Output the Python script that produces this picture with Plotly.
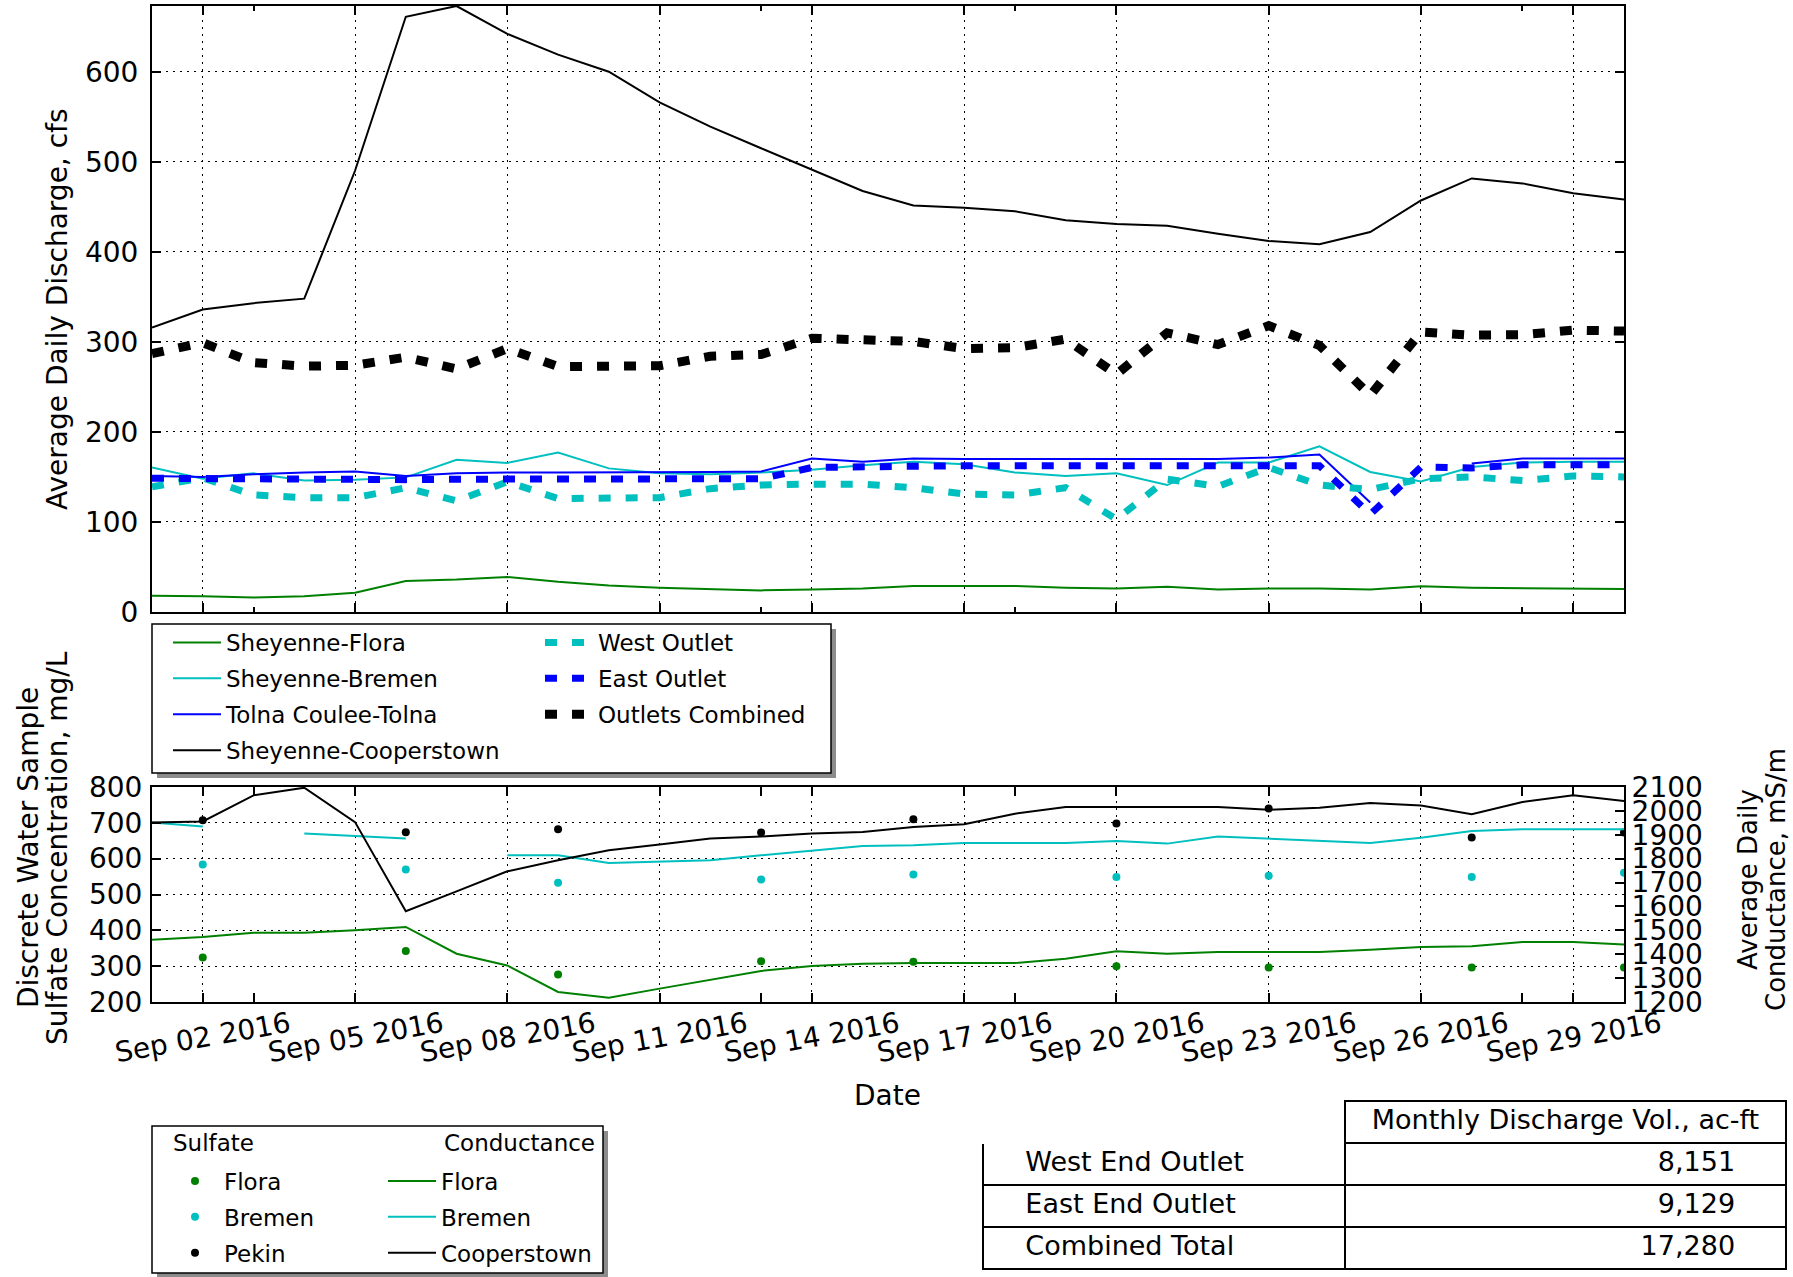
import plotly.graph_objects as go

# ---------------- data ----------------
dates = [f"2016-09-{d:02d}" for d in range(1, 31)]

# Average daily discharge, cfs
flora_q = [18, 17.5, 16, 17.5, 21.5, 34.5, 36, 39, 33.5, 29.5, 27, 25.5, 24, 25, 26,
           29, 29, 29, 27, 26, 28, 25, 26, 26, 25, 28.5, 27, 26.5, 26, 25.5]
bremen_q = [160.5, 148, 154, 146, 147, 149.5, 169, 165.5, 177, 159.5, 154, 153, 155, 158, 163,
            167, 164, 155, 151, 154, 141, 166, 166, 184, 155.5, 145, 161, 166, 167, 167]
tolna_q = [151, 150, 153, 155, 156, 151, 154, 155, 155, 155, 155, 155.5, 156, 170.5, 167,
           170.5, 170, 170, 170, 170, 170, 170, 171.5, 175, 121.5, None, 165, 170.5, 170.5, 170.5]
coop_q = [316, 336, 343, 348, 490, 661, 673, 642, 619, 600, 566, 539, 515, 491, 467.5,
          451.5, 449, 445, 435, 431, 429, 420, 412, 408.5, 422, 457, 481.5, 476, 465, 458]
west_q = [139, 149, 130, 127, 127, 138, 123.5, 144.5, 126, 126, 127, 137, 141, 142, 142,
          138, 131, 130, 138, 103, 147.5, 139.5, 160.5, 141, 136, 148, 150, 146, 151, 150]
east_q = [148.5, 148, 148, 148, 147, 147, 147.5, 147.5, 147.5, 147.5, 147.5, 147.5, 148, 160.5, 161.5,
          162.5, 162.5, 162.5, 162.5, 162.5, 162.5, 162.5, 162.5, 162.5, 108.5, 161, 160, 163.5, 163.5, 163.5]
combined_q = [287, 299, 277, 273, 274, 283, 270, 292.5, 272.5, 272.5, 273.5, 284, 286, 304, 302,
              300.5, 292.5, 293.5, 303, 264, 310, 297, 318, 296, 240.5, 311, 307.5, 308, 313, 312]

# Discrete sulfate samples, mg/L
sample_dates = ["2016-09-02", "2016-09-06", "2016-09-09", "2016-09-13", "2016-09-16",
                "2016-09-20", "2016-09-23", "2016-09-27", "2016-09-30"]
flora_so4 = [324, 342, 277, 314, 312, 300, 296, 296, 296]
bremen_so4 = [584, 570, 533, 542, 556, 549, 552, 549, 561]
pekin_so4 = [707, 674, 682, 673, 710, 698, 740, 659, 673]

# Average daily conductance, mS/m
flora_sc = [1461, 1472, 1490, 1490, 1500, 1514, 1402, 1353, 1242, 1218, 1256, 1293, 1330, 1351, 1360,
            1363, 1363, 1363, 1381, 1412, 1402, 1409, 1409, 1409, 1419, 1430, 1433, 1451, 1451, 1441]
bremen_sc = [1951, 1935, None, 1905, 1895, 1884, None, 1814, 1814, 1782, 1786, 1793, 1814, 1835, 1853,
             1856, 1866, 1866, 1866, 1874, 1863, 1893, 1884, 1874, 1866, 1888, 1916, 1923, 1923, 1923]
coop_sc = [1951, 1956, 2065, 2097, 1953, 1580, 1663, 1747, 1793, 1835, 1859, 1884, 1893, 1905, 1912,
           1933, 1944, 1988, 2016, 2016, 2016, 2016, 2005, 2013, 2033, 2023, 1986, 2037, 2065, 2041]

# ticks
major_ticks = ["2016-09-02", "2016-09-05", "2016-09-08", "2016-09-11", "2016-09-14",
               "2016-09-17", "2016-09-20", "2016-09-23", "2016-09-26", "2016-09-29"]
major_labels = ["Sep 02 2016", "Sep 05 2016", "Sep 08 2016", "Sep 11 2016", "Sep 14 2016",
                "Sep 17 2016", "Sep 20 2016", "Sep 23 2016", "Sep 26 2016", "Sep 29 2016"]
minor_ticks = ["2016-09-03", "2016-09-13", "2016-09-18", "2016-09-28"]
q_ticks = [0, 100, 200, 300, 400, 500, 600]
so4_ticks = [200, 300, 400, 500, 600, 700, 800]
sc_ticks = [1200, 1300, 1400, 1500, 1600, 1700, 1800, 1900, 2000, 2100]

# table
table_header = "Monthly Discharge Vol., ac-ft"
table_rows = ["West End Outlet", "East End Outlet", "Combined Total"]
table_vals = ["8,151", "9,129", "17,280"]

# ---------------- layout helpers ----------------
FONT = "DejaVu Sans"
W, H = 1793, 1277
ML, MR, MT, MB = 152, 3, 4, 3
AW = W - ML - MR
AH = H - MT - MB
TICK_FS = 28
LAB_FS = 28
LEG_FS = 23
TAB_FS = 27


def px(X):
    return (X - ML) / AW


def py(Y):
    return (H - MB - Y) / AH


GREEN, CYAN, BLUE, BLACK = "#008000", "#00BFBF", "#0000FF", "#000000"
DASH = "12px,15px"

fig = go.Figure()

# top panel: discharge
solid = [("Sheyenne-Flora", flora_q, GREEN), ("Sheyenne-Bremen", bremen_q, CYAN),
         ("Tolna Coulee-Tolna", tolna_q, BLUE), ("Sheyenne-Cooperstown", coop_q, BLACK)]
for i, (nm, vals, col) in enumerate(solid):
    fig.add_trace(go.Scatter(x=dates, y=vals, name=nm, mode="lines",
                             line=dict(color=col, width=2), xaxis="x", yaxis="y",
                             legend="legend", legendgroup=f"a{i}"))
dashed = [("West Outlet", west_q, CYAN, 7), ("East Outlet", east_q, BLUE, 7),
          ("Outlets Combined", combined_q, BLACK, 9)]
for i, (nm, vals, col, w) in enumerate(dashed):
    fig.add_trace(go.Scatter(x=dates, y=vals, name=nm, mode="lines",
                             line=dict(color=col, width=w, dash=DASH), xaxis="x", yaxis="y",
                             legend="legend3", legendgroup=f"b{i}"))

# bottom panel: sulfate samples (left) and conductance (right)
for i, (nm, vals, col) in enumerate([("Flora", flora_so4, GREEN), ("Bremen", bremen_so4, CYAN),
                                     ("Pekin", pekin_so4, BLACK)]):
    fig.add_trace(go.Scatter(x=sample_dates, y=vals, name=nm, mode="markers",
                             marker=dict(color=col, size=8), xaxis="x2", yaxis="y2",
                             legend="legend2", legendgroup=f"c{i}"))
for i, (nm, vals, col) in enumerate([("Flora", flora_sc, GREEN), ("Bremen", bremen_sc, CYAN),
                                     ("Cooperstown", coop_sc, BLACK)]):
    fig.add_trace(go.Scatter(x=dates, y=vals, name=nm, mode="lines",
                             line=dict(color=col, width=2), xaxis="x2", yaxis="y3",
                             legend="legend4", legendgroup=f"d{i}", connectgaps=False))

# monthly volume table
fig.add_trace(go.Table(
    domain=dict(x=[px(983), px(1786)], y=[py(1270), py(1101)]),
    columnwidth=[362, 441],
    header=dict(values=["", table_header], height=42, align=["left", "center"],
                line=dict(color=["white", "black"], width=1.5), fill=dict(color="white"),
                font=dict(family=FONT, size=TAB_FS, color="black")),
    cells=dict(values=[["\u00a0\u00a0\u00a0\u00a0" + r for r in table_rows],
                       [v + "\u00a0\u00a0\u00a0\u00a0\u00a0" for v in table_vals]],
               height=42, align=["left", "right"],
               line=dict(color="black", width=1.5), fill=dict(color="white"),
               font=dict(family=FONT, size=TAB_FS, color="black")),
))

xcommon = dict(type="date", range=[dates[0], dates[-1]], tickmode="array", tickvals=major_ticks,
               showticklabels=False, ticks="inside", ticklen=9, tickwidth=1.5, tickcolor="black",
               showline=True, linecolor="black", linewidth=2, mirror="allticks",
               showgrid=True, gridcolor="black", gridwidth=1, griddash="2px,5px", zeroline=False,
               minor=dict(tickmode="array", tickvals=minor_ticks, ticks="inside", ticklen=5,
                          tickwidth=1.5, tickcolor="black", showgrid=False))
ycommon = dict(ticks="inside", ticklen=9, tickwidth=1.5, tickcolor="black",
               showline=True, linecolor="black", linewidth=2,
               showgrid=True, gridcolor="black", gridwidth=1, griddash="2px,5px", zeroline=False,
               tickfont=dict(family=FONT, size=TICK_FS, color="black"))

fig.update_layout(
    width=W, height=H, margin=dict(l=ML, r=MR, t=MT, b=MB, autoexpand=False),
    paper_bgcolor="white", plot_bgcolor="white",
    font=dict(family=FONT, size=TICK_FS, color="black"),
    xaxis=dict(domain=[px(152), px(1624)], anchor="y", **xcommon),
    yaxis=dict(domain=[py(612), py(6)], anchor="x", range=[0, max(coop_q)], tickmode="array",
               tickvals=q_ticks, mirror="allticks", ticklabelstandoff=6, **ycommon),
    xaxis2=dict(domain=[px(152), px(1624)], anchor="y2", matches="x", **xcommon),
    yaxis2=dict(domain=[py(1002), py(787)], anchor="x2", range=[200, 800], tickmode="array",
                tickvals=so4_ticks, ticklabelstandoff=2, **ycommon),
    yaxis3=dict(overlaying="y2", anchor="x2", side="right", range=[1200, 2100], tickmode="array",
                tickvals=sc_ticks, ticks="inside", ticklen=9, tickwidth=1.5, tickcolor="black",
                showline=True, linecolor="black", linewidth=2, showgrid=False, zeroline=False,
                ticklabelstandoff=0, tickfont=dict(family=FONT, size=TICK_FS, color="black")),
    showlegend=True,
)

legend_common = dict(orientation="v", xanchor="left", yanchor="top", bgcolor="rgba(0,0,0,0)",
                     borderwidth=0, font=dict(family=FONT, size=LEG_FS, color="black"),
                     itemwidth=48, tracegroupgap=3, traceorder="grouped")
fig.update_layout(
    legend=dict(x=px(168), y=py(621), **legend_common),
    legend3=dict(x=px(540), y=py(621), **legend_common),
    legend2=dict(x=px(166), y=py(1159.5), **legend_common),
    legend4=dict(x=px(383), y=py(1159.5), **legend_common),
)

# legend frames with shadow
for (x0, y0, x1, y1) in [(152, 624, 831, 773), (152, 1126, 603, 1273)]:
    fig.add_shape(type="rect", xref="paper", yref="paper", layer="below",
                  x0=px(x0 + 5), x1=px(x1 + 5), y0=py(y1 + 5), y1=py(y0 + 5),
                  fillcolor="#8c8c8c", line=dict(width=0))
    fig.add_shape(type="rect", xref="paper", yref="paper", layer="below",
                  x0=px(x0), x1=px(x1), y0=py(y1), y1=py(y0),
                  fillcolor="white", line=dict(color="black", width=1.5))

ann = []
for tv, tl in zip(major_ticks, major_labels):
    ann.append(dict(x=tv, xref="x2", y=py(1037), yref="paper", text=tl, textangle=-10,
                    showarrow=False, xanchor="center", yanchor="middle",
                    font=dict(family=FONT, size=TICK_FS, color="black")))
ann += [
    dict(x=px(887), y=py(1095), text="Date"),
    dict(x=px(57), y=py(309), text="Average Daily Discharge, cfs", textangle=-90),
    dict(x=px(28), y=py(848), text="Discrete Water Sample", textangle=-90),
    dict(x=px(57), y=py(848), text="Sulfate Concentration, mg/L", textangle=-90),
    dict(x=px(1748), y=py(880), text="Average Daily", textangle=-90,
         font=dict(family=FONT, size=26, color="black")),
    dict(x=px(1776), y=py(880), text="Conductance, mS/m", textangle=-90,
         font=dict(family=FONT, size=26, color="black")),
    dict(x=px(171), y=py(1143), text="Sulfate", xanchor="left",
         font=dict(family=FONT, size=LEG_FS, color="black")),
    dict(x=px(442), y=py(1143), text="Conductance", xanchor="left",
         font=dict(family=FONT, size=LEG_FS, color="black")),
]
for a in ann[len(major_ticks):]:
    a.setdefault("xref", "paper")
    a.setdefault("yref", "paper")
    a.setdefault("showarrow", False)
    a.setdefault("xanchor", "center")
    a.setdefault("yanchor", "middle")
    a.setdefault("font", dict(family=FONT, size=LAB_FS, color="black"))
fig.update_layout(annotations=ann)

fig.write_html("out.html", config={"displayModeBar": False},
               post_script="document.body.style.margin='0px';")
